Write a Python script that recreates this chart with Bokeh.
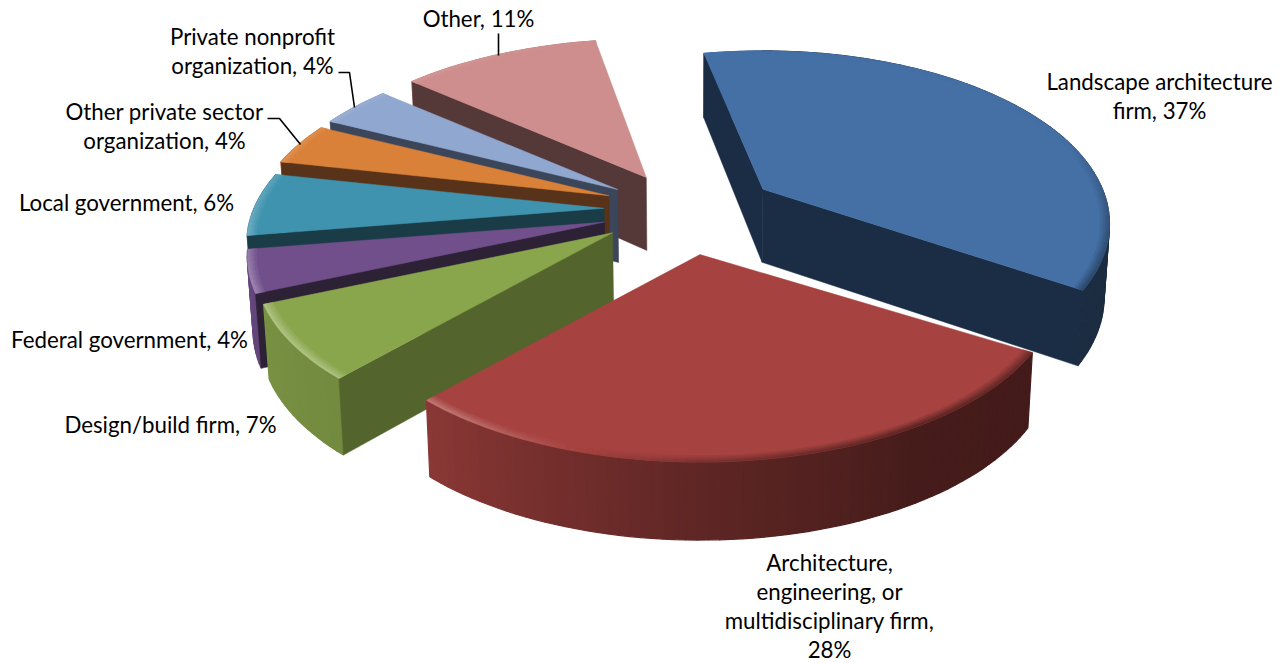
from math import sin, cos, radians
import numpy as np
from bokeh.plotting import figure
from bokeh.embed import file_html
from bokeh.resources import INLINE
from bokeh.core.properties import value

# ---- data ----
categories = ["Landscape architecture firm", "Architecture, engineering, or multidisciplinary firm",
              "Design/build firm", "Federal government", "Local government",
              "Other private sector organization", "Private nonprofit organization", "Other"]
shares = [37, 28, 7, 4, 6, 4, 4, 11]

# ---- styles ----
top_colors = ["#4570A5", "#A64340", "#8AA64C", "#714F8B", "#3F93AE", "#D98039", "#90A7CF", "#CE8E8D"]
cut_colors = ["#1B2D44", "#431C19", "#53652C", "#2D2136", "#193C47", "#58331A", "#3B465B", "#553939"]
paint_order = [7, 6, 5, 4, 3, 2, 0, 1]
# small per-slice perspective corrections: pixel nudge, width factor, edge turns in degrees
slice_nudge = [(2, 0), (-1, 1), (-5, -4), (0, -2), (3, -3), (3, -3), (2, 0), (1, 1)]
slice_width = [0.97, 1, 1, 1, 1, 1, 1, 1]
slice_turn = [(-2, 1), (0, 0), (0, 0), (0, 0), (0, 0), (0, 0), (0, 0), (0, 0)]

# label layout: (category index, line breaks, centre x, first line y)
label_layout = [
    (0, ["Landscape architecture", "firm,"], 1159, 81),
    (1, ["Architecture,", "engineering, or", "multidisciplinary firm,", ""], 829, 561.5),
    (2, ["Design/build firm,"], 170, 424),
    (3, ["Federal government,"], 129, 339),
    (4, ["Local government,"], 126, 202),
    (5, ["Other private sector", "organization,"], 164, 111),
    (6, ["Private nonprofit", "organization,"], 252, 36),
    (7, ["Other,"], 478, 18),
]
leaders = [
    ([338, 349, 354], [72, 72, 107]),
    ([267, 279, 300], [118, 118, 144]),
    ([498, 498], [33, 55]),
]

# ---- 3-D pie projection ----
CX, CY = 688.0, 212.0
A, B = 350.0, 166.0
D = 5.0
EXPLODE = 0.25
START = -10.0
KX, VX = 0.013, 690.0


def rim(deg, r=1.0):
    t = radians(deg)
    X, Y = r * sin(t), r * cos(t)
    s = 1.0 / (1.0 + Y / D)
    return A * X * s, -B * Y * s, s


def mix(c1, c2, t):
    a = [int(c1[i:i + 2], 16) for i in (1, 3, 5)]
    b = [int(c2[i:i + 2], 16) for i in (1, 3, 5)]
    return "#%02x%02x%02x" % tuple(int(round(x + (y - x) * t)) for x, y in zip(a, b))


def shade(c, f):
    return mix(c, "#000000", 1 - f)


def edge(c, deg):
    L = float(np.interp((deg + 360) % 360,
                        [0, 70, 100, 120, 150, 180, 200, 215, 230, 250, 280, 300, 360],
                        [0, 0, -.25, -.35, -.45, -.25, .05, .25, .3, .3, .15, .1, 0]))
    return mix(c, "#ffffff", L) if L > 0 else mix(c, "#000000", -L)


def side_factor(deg):
    return float(np.interp((deg + 360) % 360,
                           [0, 120, 150, 180, 221, 260, 360],
                           [.4, .4, .42, .57, .83, .9, .9]))


def low(x, y, s):
    return x + (VX - x) * KX, y + float(np.interp(s, [.833, 1.0, 1.25], [64, 73, 78]))


p = figure(width=1286, height=663, x_range=(0, 1286), y_range=(663, 0),
           output_backend="svg", toolbar_location=None, min_border=0,
           x_axis_location=None, y_axis_location=None, outline_line_color=None,
           background_fill_color="white", border_fill_color="white")
p.grid.visible = False

total = sum(shares)
edges = [START]
for v in shares:
    edges.append(edges[-1] + 360.0 * v / total)

for i in paint_order:
    a0, a1 = edges[i] + slice_turn[i][0], edges[i + 1] + slice_turn[i][1]
    mid = (edges[i] + edges[i + 1]) / 2
    ax = CX + EXPLODE * A * sin(radians(mid)) + slice_nudge[i][0]
    ay = CY - EXPLODE * B * cos(radians(mid)) + slice_nudge[i][1]
    k_w = slice_width[i]
    top = top_colors[i]
    cut = cut_colors[i]
    ang = np.arange(a0, a1 + 0.01, 1.5).tolist()
    if ang[-1] < a1:
        ang.append(a1)
    bax, bay = low(ax, ay, 1.0)


    def pt(t, r=1.0):
        x, y, s = rim(t, r)
        return ax + k_w * x, ay + y, s

    # outer wall, shaded by angle
    xs, ys, cs = [], [], []
    for t0, t1 in zip(ang[:-1], ang[1:]):
        x0, y0, s0 = pt(t0)
        x1, y1, s1 = pt(t1)
        bx0, by0 = low(x0, y0, s0)
        bx1, by1 = low(x1, y1, s1)
        xs.append([x0, x1, bx1, bx0])
        ys.append([y0, y1, by1, by0])
        cs.append(shade(top, side_factor((t0 + t1) / 2)))
    p.patches(xs, ys, fill_color=cs, line_color=cs, line_width=1.2)

    # cut faces turned towards the viewer
    for e, visible in ((a0, sin(radians(a0)) < 0), (a1, sin(radians(a1)) > 0)):
        if visible:
            x, y, s = pt(e)
            bx, by = low(x, y, s)
            p.patch([x, ax, bax, bx], [y, ay, bay, by], fill_color=cut,
                    line_color=cut, line_width=0.5)

    # top face
    tx = [ax] + [pt(t)[0] for t in ang]
    ty = [ay] + [pt(t)[1] for t in ang]
    p.patch(tx, ty, fill_color=top, line_color=top, line_width=0.5)

    # bevel on the rim of the top face
    xs, ys, cs = [], [], []
    radii = [0.975, 0.982, 0.988, 0.994, 1.0]
    for k in range(4):
        for t0, t1 in zip(ang[:-1], ang[1:]):
            q = [pt(t0, radii[k]), pt(t1, radii[k]), pt(t1, radii[k + 1]), pt(t0, radii[k + 1])]
            xs.append([c[0] for c in q])
            ys.append([c[1] for c in q])
            cs.append(mix(top, edge(top, (t0 + t1) / 2), (k + 1) / 4))
    p.patches(xs, ys, fill_color=cs, line_color=cs, line_width=0.4)

# leader lines
for lx, ly in leaders:
    p.line(lx, ly, line_color="#000000", line_width=1.6)

# labels
tx, ty, tt = [], [], []
LINE = 29.3
for idx, lines, cx, y in label_layout:
    pct = f"{shares[idx]}%"
    lines = list(lines)
    if lines[-1] == "":
        lines[-1] = pct
    else:
        lines[-1] = lines[-1] + " " + pct
    for n, line in enumerate(lines):
        tx.append(cx)
        ty.append(y + n * LINE)
        tt.append(line)
p.text(tx, ty, text=tt, text_font=value("Lato"), text_font_size="22.3px", text_color="#000000",
       text_align="center", text_baseline="middle")

open("out.html", "w").write(file_html(p, INLINE))
